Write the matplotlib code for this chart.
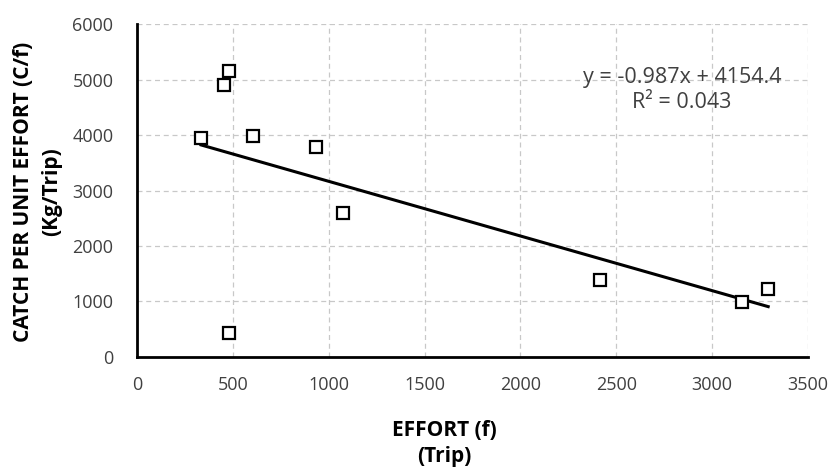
import numpy as np
import matplotlib.pyplot as plt

effort = [334, 456, 480, 604, 934, 1077, 478, 2416, 3156, 3293]
cpue = [3953, 4904, 5162, 3989, 3780, 2588, 422, 1384, 982, 1216]
slope = -0.987
intercept = 4154.4
r2 = 0.043

plt.rcParams['font.family'] = ['Open Sans', 'DejaVu Sans']

fig = plt.figure(figsize=(8.32, 4.71), dpi=100)
ax = fig.add_axes([0.1647, 0.2427, 0.8063, 0.7053])

ax.plot(effort, cpue, 's', markersize=8.5, markerfacecolor='white',
        markeredgecolor='black', markeredgewidth=1.6, zorder=3, clip_on=False)

xs = np.array([min(effort), max(effort)])
ax.plot(xs, slope * xs + intercept, color='black', linewidth=2.2, zorder=2)

ax.set_xlim(0, 3500)
ax.set_ylim(0, 6000)
ax.set_xticks(range(0, 3501, 500))
ax.set_yticks(range(0, 6001, 1000))
ax.grid(True, color='#c8c8c8', linestyle=(0, (4, 3)), linewidth=0.9)
ax.set_axisbelow(True)
for s in ['top', 'right']:
    ax.spines[s].set_visible(False)
for s in ['left', 'bottom']:
    ax.spines[s].set_linewidth(2)
    ax.spines[s].set_color('black')
ax.tick_params(length=0, labelsize=13, colors='#404040')
ax.tick_params(axis='x', pad=14)
ax.tick_params(axis='y', pad=17)

ax.text(0.812, 0.803, 'y = -0.987x + 4154.4\nR² = 0.043', transform=ax.transAxes,
        ha='center', va='center', fontsize=15.5, color='#404040', linespacing=1.25)

ax.set_xlabel('EFFORT (f)\n(Trip)', fontsize=15, fontweight='bold', linespacing=1.35)
ax.xaxis.set_label_coords(0.4575, -0.19)
ax.set_ylabel('CATCH PER UNIT EFFORT (C/f)\n(Kg/Trip)', fontsize=15, fontweight='bold',
              linespacing=1.4)
ax.yaxis.set_label_coords(-0.112, 0.496)

fig.savefig('out.png', dpi=100)
